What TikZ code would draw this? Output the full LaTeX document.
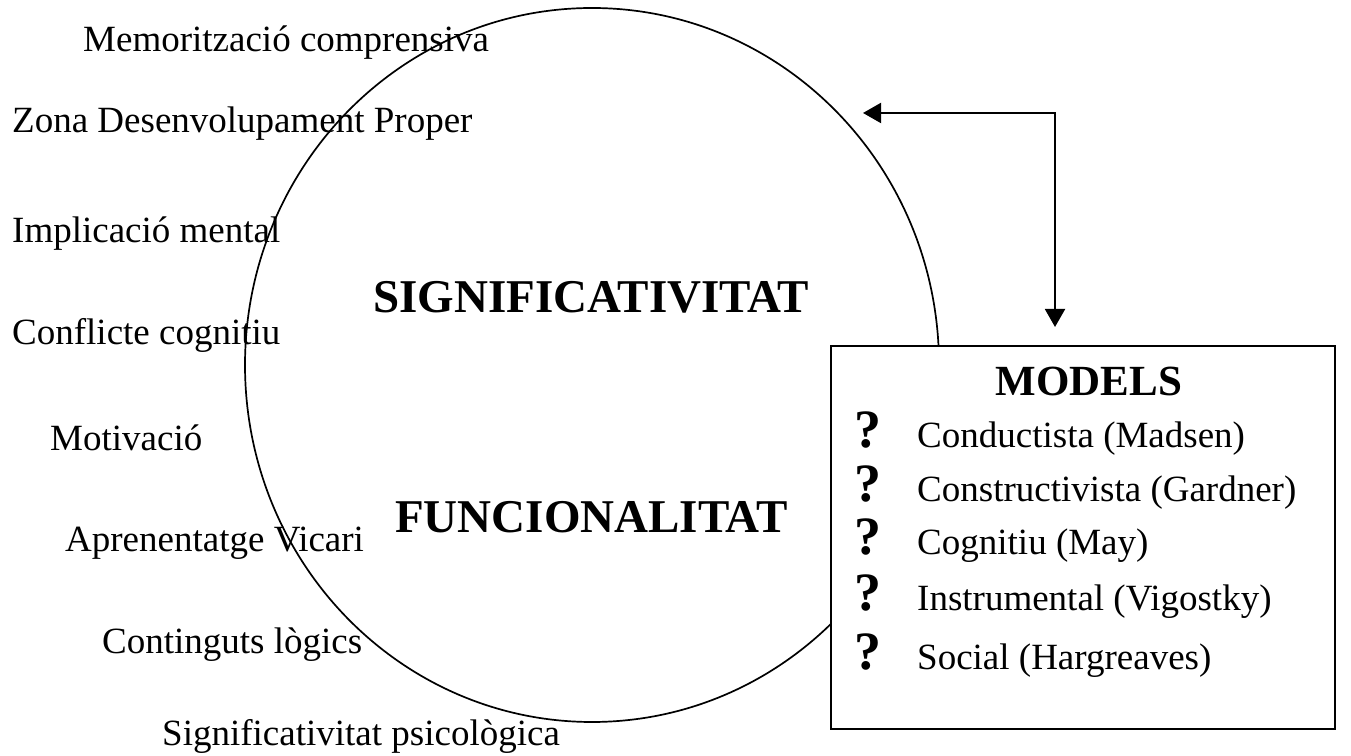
\documentclass[tikz,border=0pt]{standalone}
\usepackage{fontspec}
\setmainfont{Liberation Serif}
\usetikzlibrary{shapes.geometric,arrows.meta}
\tikzset{
  lbl/.style={anchor=base west, inner sep=0pt, font=\fontsize{37}{44}\selectfont},
  big/.style={anchor=base west, inner sep=0pt, font=\fontsize{47}{56}\selectfont\bfseries},
  qm/.style={anchor=base west, inner sep=0pt, font=\fontsize{54}{60}\selectfont\bfseries},
  link/.style={line width=2pt, {Triangle[length=18pt,width=20pt]}-{Triangle[length=18pt,width=20pt]}}
}
\begin{document}
\begin{tikzpicture}[x=1pt,y=1pt]
\useasboundingbox (0,0) rectangle (1351,755);
% circle
\node[draw, line width=1.7pt, ellipse, minimum width=694pt, minimum height=714pt, inner sep=0pt] (circ) at (592,390) {};
% left labels
\node[lbl] (m1) at (83,703) {Memorització comprensiva};
\node[lbl] (m2) at (12,622) {Zona Desenvolupament Proper};
\node[lbl] (m3) at (12,512) {Implicació mental};
\node[lbl] (m4) at (12,410) {Conflicte cognitiu};
\node[lbl] (m5) at (50,304) {Motivació};
\node[lbl] (m6) at (65,203) {Aprenentatge Vicari};
\node[lbl] (m7) at (102,102) {Continguts lògics};
\node[lbl] (m8) at (162,10) {Significativitat psicològica};
% centre titles
\node[big] (sig) at (373,442) {SIGNIFICATIVITAT};
\node[big] (fun) at (395,222) {FUNCIONALITAT};
% models box
\node[draw, line width=1.8pt, fill=white, minimum width=504pt, minimum height=383pt, inner sep=0pt, anchor=north west] (models) at (830,410) {};
\node[anchor=base, inner sep=0pt, font=\fontsize{43}{50}\selectfont\bfseries] (mt) at (1089,359) {MODELS};
\node[qm] (q1) at (854,307) {?};
\node[lbl] (t1) at (917,307) {Conductista (Madsen)};
\node[qm] (q2) at (854,253) {?};
\node[lbl] (t2) at (917,253) {Constructivista (Gardner)};
\node[qm] (q3) at (854,200) {?};
\node[lbl] (t3) at (917,200) {Cognitiu (May)};
\node[qm] (q4) at (854,144) {?};
\node[lbl] (t4) at (917,144) {Instrumental (Vigostky)};
\node[qm] (q5) at (854,86) {?};
\node[lbl] (t5) at (917,86) {Social (Hargreaves)};
% connector
\coordinate (a1) at (863,642);
\coordinate (bend) at (1055,642);
\coordinate (a2) at (1055,428);
\draw[link] (a1) -- (bend) -- (a2);
\end{tikzpicture}
\end{document}
